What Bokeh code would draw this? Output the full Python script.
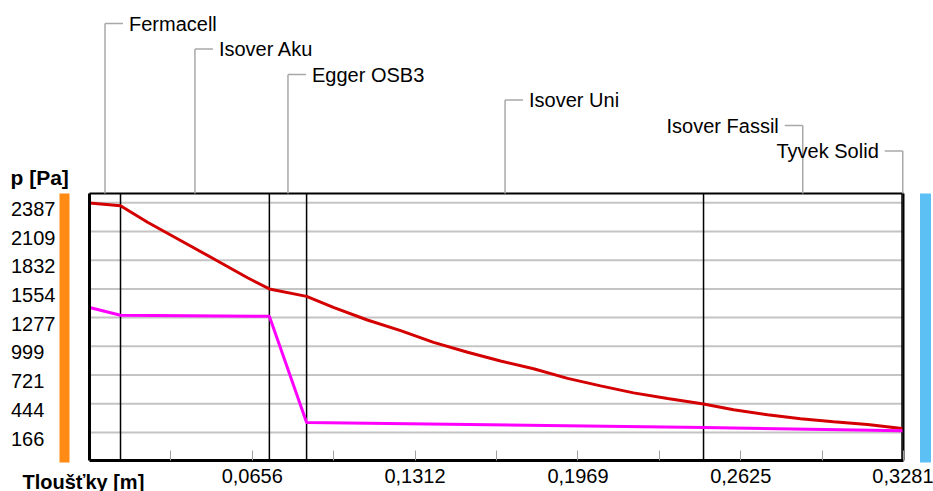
from bokeh.plotting import figure
from bokeh.models import Range1d, LinearAxis, FixedTicker, Label, CustomJSTickFormatter
from bokeh.core.properties import value
from bokeh.embed import file_html
from bokeh.resources import INLINE

# ---------------- data ----------------
layers = ["Fermacell", "Isover Aku", "Egger OSB3", "Isover Uni", "Isover Fassil", "Tyvek Solid"]
thickness = [0.0125, 0.06, 0.015, 0.16, 0.08, 0.0006]

x_ticks = [0.0656, 0.1312, 0.1969, 0.2625, 0.3281]
y_ticks = [166, 444, 721, 999, 1277, 1554, 1832, 2109, 2387]

# saturated vapour pressure (red)
psat_x = [0, 0.0125, 0.0234, 0.0367, 0.05, 0.0637, 0.0725, 0.0875, 0.0983, 0.112,
          0.1254, 0.1387, 0.1524, 0.1657, 0.179, 0.1927, 0.206, 0.2193, 0.233, 0.2475,
          0.2596, 0.2733, 0.2866, 0.2999, 0.3136, 0.3275, 0.3281]
psat_y = [2385, 2358, 2199, 2023, 1846, 1662, 1554, 1482, 1376, 1254,
          1151, 1038, 942, 857, 783, 689, 617, 549, 495, 442,
          386, 338, 298, 270, 244, 204, 200]

# partial vapour pressure (magenta)
p_x = [0, 0.0125, 0.0725, 0.0875, 0.2475, 0.3275, 0.3281]
p_y = [1375, 1300, 1290, 262, 214, 184, 178]

# ---------------- layout (pixel geometry of the picture) ----------------
W, H = 933, 491
x_total = sum(thickness)
X0_PX, X1_PX = 89, 903                 # where 0 and x_total sit
xs = x_total / (X1_PX - X0_PX)
x_start = -X0_PX * xs
x_end = x_total + (W - X1_PX) * xs

YT0_PX, YT1_PX = 432.0, 202.3          # where first and last y tick sit
ys = (y_ticks[-1] - y_ticks[0]) / (YT0_PX - YT1_PX)
y_end = y_ticks[-1] + YT1_PX * ys
y_start = y_end - H * ys


def px_x(px):
    return x_start + px * xs


def px_y(py):
    return y_end - py * ys


Y_BOT = px_y(460)      # bottom edge of the chart box
Y_TOP = px_y(193)      # top edge of the chart box

ORANGE = "#ff8a14"
BLUE = "#5cc0f4"
FONT = "Liberation Sans"

p = figure(width=W, height=H, x_range=Range1d(x_start, x_end), y_range=Range1d(y_start, y_end),
           output_backend="svg", toolbar_location=None,
           min_border_left=0, min_border_right=0, min_border_top=0, min_border_bottom=0,
           outline_line_color=None, background_fill_color="white", border_fill_color="white")
p.grid.visible = False

# x axis
xa = p.xaxis[0]
xa.fixed_location = Y_BOT
xa.ticker = FixedTicker(ticks=x_ticks,
                        minor_ticks=[(a + b) / 2 for a, b in zip([0] + x_ticks[:-1], x_ticks)])
xa.formatter = CustomJSTickFormatter(code="return tick.toFixed(4).replace('.', ',');")
xa.bounds = (0, x_total)
xa.axis_line_color = "black"
xa.axis_line_width = 3
xa.major_tick_in = 10
xa.major_tick_out = 0
xa.minor_tick_in = 10
xa.minor_tick_out = 0
xa.major_tick_line_color = "#a0a0a0"
xa.minor_tick_line_color = "#a0a0a0"
xa.major_label_standoff = 8
xa.major_label_text_font = FONT
xa.major_label_text_font_size = "20px"
xa.major_label_text_color = "black"

# y axis (the orange bar is its axis line); labels sit a little below their grid lines
ya = p.yaxis[0]
ya.fixed_location = px_x(64)
ya.ticker = FixedTicker(ticks=[v - 6 * ys for v in y_ticks])
ya.formatter = CustomJSTickFormatter(args=dict(labels=[str(v).ljust(4, "\u2007") for v in y_ticks]),
                                     code="return labels[index];")
ya.bounds = (px_y(462), Y_TOP)
ya.axis_line_color = ORANGE
ya.axis_line_width = 10
ya.major_tick_line_color = None
ya.minor_tick_line_color = None
ya.major_tick_out = 0
ya.major_tick_in = 0
ya.major_label_standoff = 9
ya.major_label_text_font = FONT
ya.major_label_text_font_size = "20px"
ya.major_label_text_color = "black"

# right blue bar
ra = LinearAxis(ticker=FixedTicker(ticks=[]), bounds=(px_y(462), Y_TOP),
                fixed_location=px_x(925),
                axis_line_color=BLUE, axis_line_width=11,
                major_tick_line_color=None, minor_tick_line_color=None,
                major_tick_out=0, major_label_standoff=0, major_label_text_font_size="0px")
p.add_layout(ra, "right")

# horizontal grid lines
n = len(y_ticks)
p.segment(x0=[0] * n, y0=y_ticks, x1=[x_total] * n, y1=y_ticks, line_color="#c4c4c4", line_width=2)

# layer boundaries
bounds = []
acc = 0.0
for t in thickness:
    acc += t
    bounds.append(acc)
inner = bounds[:-1]
p.segment(x0=inner, y0=[Y_BOT] * len(inner), x1=inner, y1=[Y_TOP] * len(inner),
          line_color="black", line_width=1.5)

# curves
p.line(psat_x, psat_y, line_color="#d40000", line_width=3)
p.line(p_x, p_y, line_color="#ff00ff", line_width=3)

# chart box
p.segment(x0=[0], y0=[Y_BOT], x1=[0], y1=[Y_TOP], line_color="black", line_width=3)
p.segment(x0=[0], y0=[Y_TOP], x1=[x_total], y1=[Y_TOP], line_color="black", line_width=2)
p.segment(x0=[x_total], y0=[Y_BOT], x1=[x_total], y1=[Y_TOP], line_color="black", line_width=2)

# layer call-outs
starts = [0.0] + bounds[:-1]
mids = [(a + b) / 2 for a, b in zip(starts, bounds)]
stub = 18 * xs
gap = 6 * xs
lx, ly, lt = [], [], []
rx, ry, rt = [], [], []
vx0, vy0, vx1, vy1 = [], [], [], []
for i, (name, m) in enumerate(zip(layers, mids)):
    lev = px_y(23 + 25.5 * i)
    vx0 += [m, m]
    vy0 += [Y_TOP, lev]
    mid_px = X0_PX + m / xs
    flip = mid_px + 24 + 10 * len(name) > X1_PX
    if flip:
        vx1 += [m, m - stub]
        rx.append(m - stub - gap); ry.append(lev); rt.append(name)
    else:
        vx1 += [m, m + stub]
        lx.append(m + stub + gap); ly.append(lev); lt.append(name)
    vy1 += [lev, lev]
p.segment(x0=vx0, y0=vy0, x1=vx1, y1=vy1, line_color="#a8a8a8", line_width=1.5)
p.text(x=lx, y=ly, text=lt, text_font=value(FONT), text_font_size="20px",
       text_align="left", text_baseline="middle", text_color="black")
p.text(x=rx, y=ry, text=rt, text_font=value(FONT), text_font_size="20px",
       text_align="right", text_baseline="middle", text_color="black")

# axis titles
p.add_layout(Label(x=10, y=177, x_units="canvas", y_units="canvas", text="p [Pa]",
                   text_font=FONT, text_font_size="21px", text_font_style="bold",
                   text_baseline="alphabetic", text_align="left", text_color="black"))
p.add_layout(Label(x=22, y=481, x_units="canvas", y_units="canvas", text="Tloušťky [m]",
                   text_font=FONT, text_font_size="20px", text_font_style="bold",
                   text_baseline="alphabetic", text_align="left", text_color="black"))

open("out.html", "w").write(file_html(p, INLINE))
